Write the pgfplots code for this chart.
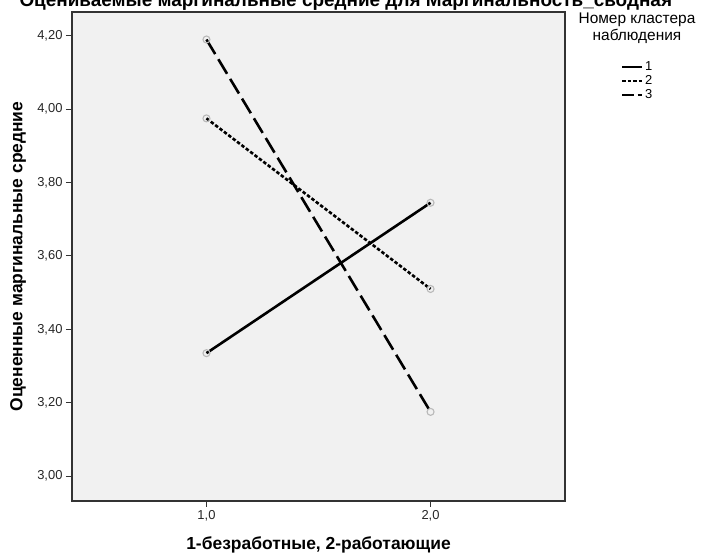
\documentclass[border=0pt]{standalone}
\usepackage{pgfplots}
\pgfplotsset{compat=1.18}
\usepackage{fontspec}
\setmainfont{Liberation Sans}

\definecolor{plotbg}{RGB}{241,241,241}
\definecolor{frame}{RGB}{51,51,51}

\pgfplotstableread{
x   c1     c2     c3
1   3.335  3.975  4.190
2   3.745  3.510  3.175
}\means

\begin{document}
\begin{tikzpicture}
\begin{axis}[
    at={(72bp,55bp)}, anchor=south west,
    scale only axis,
    width=493bp, height=489bp,
    xmin=0.4, xmax=2.6,
    ymin=2.932, ymax=4.265,
    xtick={1,2}, ytick={3,3.2,...,4.21},
    axis background/.style={fill=plotbg},
    axis line style={draw=frame, line width=1.3bp},
    tick style={draw=frame, line width=1.1bp},
    tick align=outside, major tick length=6bp,
    xtick pos=bottom, ytick pos=left,
    /pgf/number format/assume math mode=true,
    xticklabel style={/pgf/number format/.cd, use comma, fixed, fixed zerofill, precision=1},
    yticklabel style={/pgf/number format/.cd, use comma, fixed, fixed zerofill, precision=2},
    tick label style={font=\fontsize{13}{15}\selectfont, text=black!85},
    xlabel={1-безработные, 2-работающие},
    ylabel={Оцененные маргинальные средние},
    every axis x label/.style={at={(axis description cs:0.5,0)}, anchor=center, yshift=-44bp},
    every axis y label/.style={at={(axis description cs:-0.1095,0.5)}, anchor=center, rotate=90},
    label style={font=\fontsize{17.5}{20}\selectfont\bfseries},
    legend style={at={(axis description cs:1.113,0.902)}, anchor=north west,
        draw=none, fill=none, inner sep=0pt, row sep=0bp,
        font=\fontsize{13}{14}\selectfont,
        nodes={inner sep=1.5bp, text height=9bp, text depth=2bp}},
    legend cell align=left,
    legend image code/.code={\draw[#1] (0bp,0bp) -- (20bp,0bp);},
    every axis plot/.append style={line width=2.6bp, mark=o, mark size=3.5bp,
        mark options={draw=gray!55, solid, line width=1.1bp}},
]
\addplot[black] table[x=x, y=c1] {\means};
\addlegendentry{1}
\addplot[black, dash pattern=on 3.5bp off 2bp] table[x=x, y=c2] {\means};
\addlegendentry{2}
\addplot[black, dash pattern=on 17bp off 6bp,
    legend image code/.code={\draw[black, line width=2.6bp, dash pattern=on 12bp off 3.5bp] (0bp,0bp) -- (20bp,0bp);}]
    table[x=x, y=c3] {\means};
\addlegendentry{3}
\end{axis}
\node[align=center, font=\fontsize{15.5}{17}\selectfont] at (637bp,528bp) {Номер кластера\\наблюдения};
\node[anchor=west, font=\fontsize{19}{22}\selectfont\bfseries] at (16bp,554bp)
    {Оцениваемые маргинальные средние для Маргинальность\_сводная};
\pgfresetboundingbox
\useasboundingbox (0,0) rectangle (705bp,556bp);
\end{tikzpicture}
\end{document}
